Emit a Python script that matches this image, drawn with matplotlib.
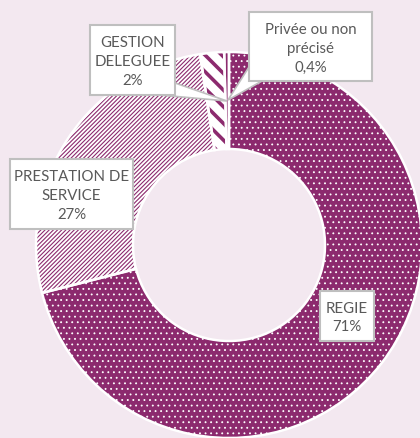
import matplotlib
matplotlib.use("Agg")
import matplotlib.pyplot as plt
from matplotlib.patches import Rectangle, Polygon

categories = ["REGIE", "PRESTATION DE\nSERVICE", "GESTION\nDELEGUEE", "Privée ou non\nprécisé"]
values = [71.0, 26.6, 2.0, 0.4]
pct_labels = ["71%", "27%", "2%", "0,4%"]

BG = "#F3E8F0"
PURPLE = "#8C2A6E"
TXT = "#595959"
BORDER = "#BFBFBF"

plt.rcParams["font.family"] = ["Lato", "DejaVu Sans"]

W, H = 420, 439
fig = plt.figure(figsize=(W / 100, H / 100), dpi=100, facecolor=BG)
ax = fig.add_axes([0, 0, 1, 1])
ax.set_facecolor(BG)

cx, cy = 229, H - 246
R = 193
ring = 97

face = [PURPLE, "white", "white", PURPLE]
hatches = ["...", "////////", "\\\\", None]
hatch_edge = ["white", PURPLE, PURPLE, PURPLE]
hatch_lw = [0.6, 0.8, 2.6, 1.0]

wedges, _ = ax.pie(values, radius=R, center=(cx, cy), startangle=90,
                   counterclock=False, frame=True,
                   wedgeprops=dict(width=ring, linewidth=0))
for w, fc, h, ec, lw in zip(wedges, face, hatches, hatch_edge, hatch_lw):
    w.set_facecolor(fc)
    w.set_edgecolor(ec)
    w.set_linewidth(0)
    if h:
        w.set_hatch(h)
        try:
            w.set_hatch_linewidth(lw)
        except Exception:
            w._hatch_linewidth = lw

# white separators / outline
ax.pie(values, radius=R, center=(cx, cy), startangle=90,
       counterclock=False, frame=True,
       wedgeprops=dict(width=ring, linewidth=1.8,
                       edgecolor="white", facecolor="none"))
ax.set_xlim(0, W)
ax.set_ylim(0, H)
ax.set_aspect("equal")
ax.axis("off")


def Y(y):
    return H - y


# callout pointers
ax.add_patch(Polygon([(160, Y(96)), (175, Y(84)), (227, Y(102))], closed=True,
                     facecolor="white", edgecolor=BORDER, lw=1.2, zorder=5))
ax.add_patch(Polygon([(249, Y(68)), (262, Y(82)), (228, Y(101))], closed=True,
                     facecolor="white", edgecolor=BORDER, lw=1.2, zorder=5))

boxes = {
    0: (320, 292, 374, 342),
    1: (10, 160, 133, 230),
    2: (90, 26, 175, 96),
    3: (249, 13, 372, 82),
}
for i, (x0, y0, x1, y1) in boxes.items():
    ax.add_patch(Rectangle((x0, Y(y1)), x1 - x0, y1 - y0, facecolor="white",
                           edgecolor=BORDER, lw=1.5, zorder=6))
    ax.text((x0 + x1) / 2, Y((y0 + y1) / 2) - 1, categories[i] + "\n" + pct_labels[i],
            ha="center", va="center", color=TXT, fontsize=10.8,
            linespacing=1.45, zorder=7)

fig.savefig("out.png", dpi=100, facecolor=BG)
